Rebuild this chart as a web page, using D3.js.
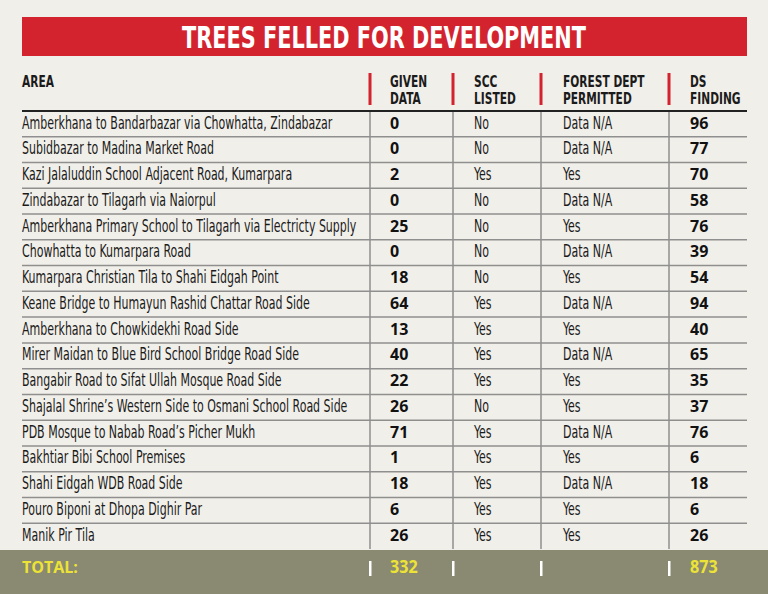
<!DOCTYPE html>
<meta charset="utf-8">
<style>
  html, body { margin:0; padding:0; overflow:hidden; background:#f1efe9; }
  .narrow { font-family: "DejaVu Sans Condensed", "DejaVu Sans", sans-serif; }
  .num { font-family: "Open Sans", sans-serif; font-weight:700; }
</style>
<svg id="chart" width="768" height="594"></svg>
<script src="https://cdn.jsdelivr.net/npm/d3@7"></script>
<script>

// table data
var title = "TREES FELLED FOR DEVELOPMENT";
var headers = [["AREA"], ["GIVEN", "DATA"], ["SCC", "LISTED"], ["FOREST DEPT", "PERMITTED"], ["DS", "FINDING"]];
var areas = [
  "Amberkhana to Bandarbazar via Chowhatta, Zindabazar",
  "Subidbazar to Madina Market Road",
  "Kazi Jalaluddin School Adjacent Road, Kumarpara",
  "Zindabazar to Tilagarh via Naiorpul",
  "Amberkhana Primary School to Tilagarh via Electricty Supply",
  "Chowhatta to Kumarpara Road",
  "Kumarpara Christian Tila to Shahi Eidgah Point",
  "Keane Bridge to Humayun Rashid Chattar Road Side",
  "Amberkhana to Chowkidekhi Road Side",
  "Mirer Maidan to Blue Bird School Bridge Road Side",
  "Bangabir Road to Sifat Ullah Mosque Road Side",
  "Shajalal Shrine\u2019s Western Side to Osmani School Road Side",
  "PDB Mosque to Nabab Road\u2019s Picher Mukh",
  "Bakhtiar Bibi School Premises",
  "Shahi Eidgah WDB Road Side",
  "Pouro Biponi at Dhopa Dighir Par",
  "Manik Pir Tila"
];
var givenData = [0, 0, 2, 0, 25, 0, 18, 64, 13, 40, 22, 26, 71, 1, 18, 6, 26];
var sccListed = ["No", "No", "Yes", "No", "No", "No", "No", "Yes", "Yes", "Yes", "Yes", "No", "Yes", "Yes", "Yes", "Yes", "Yes"];
var forestPermitted = ["Data N/A", "Data N/A", "Yes", "Data N/A", "Yes", "Data N/A", "Yes", "Data N/A", "Yes",
                       "Data N/A", "Yes", "Yes", "Data N/A", "Yes", "Data N/A", "Yes", "Yes"];
var dsFinding = [96, 77, 70, 58, 76, 39, 54, 94, 40, 65, 35, 37, 76, 6, 18, 6, 26];


var svg = d3.select("#chart");

var left = 22, right = 747;
var colX = [22, 390, 474, 563, 690];      // text starts
var sepX = [370, 453, 541, 669];          // column separators

var y = d3.scaleBand()
    .domain(d3.range(areas.length))
    .range([111, 549]);

// helper: condensed text via horizontal scale
function txt(g, x, yy, s, size, sx, cls, weight, fill) {
    return g.append("text")
        .attr("class", cls)
        .attr("transform", "translate(" + x + "," + yy + ") scale(" + sx + ",1)")
        .style("font-size", size + "px")
        .style("font-weight", weight)
        .attr("fill", fill)
        .text(s);
}

// title banner
svg.append("rect")
    .attr("x", left).attr("y", 17)
    .attr("width", right - left).attr("height", 39)
    .attr("fill", "#d3232e");

svg.append("text")
    .attr("class", "narrow")
    .attr("x", 384).attr("y", 48)
    .attr("text-anchor", "middle")
    .attr("textLength", 404)
    .attr("lengthAdjust", "spacingAndGlyphs")
    .style("font-size", "31px")
    .style("font-weight", 700)
    .attr("fill", "#fff")
    .text(title);

// header
var head = svg.append("g");
headers.forEach(function(lines, c) {
    lines.forEach(function(s, k) {
        txt(head, colX[c], 86.5 + k * 17.5, s, 16, 0.74, "narrow", 700, "#1b1b1b");
    });
});
head.selectAll("rect.redbar")
    .data(sepX)
    .enter().append("rect")
    .attr("class", "redbar")
    .attr("x", function(d) { return d - 1.5; })
    .attr("y", 73)
    .attr("width", 3)
    .attr("height", 32)
    .attr("fill", "#d3232e");

// grid lines
svg.append("g").selectAll("line")
    .data(d3.range(areas.length - 1))
    .enter().append("line")
    .attr("x1", left).attr("x2", right)
    .attr("y1", function(i) { return y(i) + y.bandwidth(); })
    .attr("y2", function(i) { return y(i) + y.bandwidth(); })
    .attr("stroke", "#8f8f8f")
    .attr("stroke-width", 1.5);

svg.append("g").selectAll("line")
    .data(sepX)
    .enter().append("line")
    .attr("x1", function(d) { return d; }).attr("x2", function(d) { return d; })
    .attr("y1", y.range()[0]).attr("y2", y.range()[1])
    .attr("stroke", "#8f8f8f")
    .attr("stroke-width", 1.5);

svg.append("line")
    .attr("x1", left).attr("x2", right)
    .attr("y1", 111).attr("y2", 111)
    .attr("stroke", "#222")
    .attr("stroke-width", 2);

// body rows
var body = svg.append("g");
areas.forEach(function(a, i) {
    var by = y(i) + 17.5;
    txt(body, colX[0], by, a, 17, 0.72, "narrow", 400, "#1b1b1b");
    txt(body, colX[1], by, givenData[i], 16, 1, "num", 700, "#111");
    txt(body, colX[2], by, sccListed[i], 17, 0.72, "narrow", 400, "#1b1b1b");
    txt(body, colX[3], by, forestPermitted[i], 17, 0.72, "narrow", 400, "#1b1b1b");
    txt(body, colX[4], by, dsFinding[i], 16, 1, "num", 700, "#111");
});

// total band
svg.append("rect")
    .attr("x", 0).attr("y", 550)
    .attr("width", 768).attr("height", 44)
    .attr("fill", "#8a8971");

var tot = svg.append("g");
txt(tot, 22, 573, "TOTAL:", 16, 1, "num", 700, "#ece336");
txt(tot, colX[1], 573, d3.sum(givenData), 17, 0.95, "num", 700, "#ece336");
txt(tot, colX[4], 573, d3.sum(dsFinding), 17, 0.95, "num", 700, "#ece336");
tot.selectAll("rect")
    .data(sepX)
    .enter().append("rect")
    .attr("x", function(d) { return d - 1; })
    .attr("y", 561)
    .attr("width", 2.5)
    .attr("height", 15)
    .attr("fill", "#fff");

</script>
